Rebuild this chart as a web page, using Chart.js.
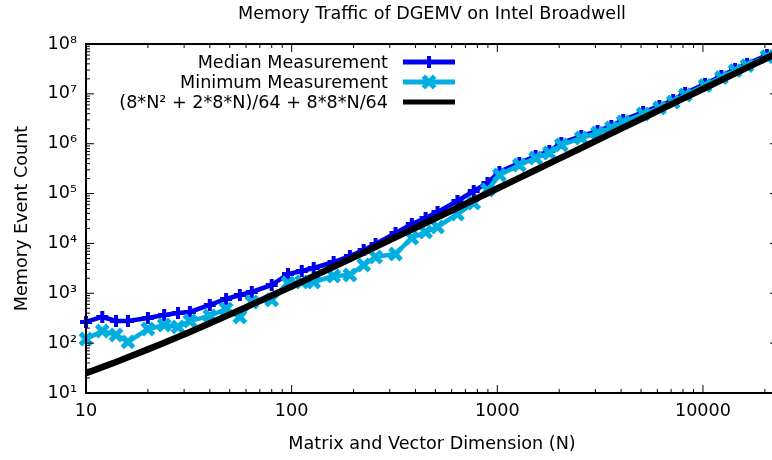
<!DOCTYPE html>
<html>
<head>
<meta charset="utf-8">
<script src="https://cdn.jsdelivr.net/npm/chart.js@4.4.1/dist/chart.umd.min.js"></script>
<style>
  html, body { margin: 0; padding: 0; overflow: hidden; background: #ffffff; }
  #frameBox { width: 772px; height: 460px; overflow: hidden; position: relative; }
  canvas { display: block; }
</style>
</head>
<body>
<div id="frameBox">
<canvas id="traffic" width="780" height="460" style="width:780px;height:460px"></canvas>
</div>
<script>
// Matrix/vector dimension N for each run
const dimensions = [10, 12, 14, 16, 20, 24, 28, 32, 40, 48, 56, 64, 80, 96, 112, 128,
  160, 192, 224, 256, 320, 384, 448, 512, 640, 768, 896, 1024, 1280, 1536, 1792, 2048,
  2560, 3072, 3584, 4096, 5120, 6144, 7168, 8192, 10240, 12288, 14336, 16384, 20480, 24576];

// Median memory event count per N
const medianCounts = [266, 335, 278, 278, 320, 367, 403, 422, 583, 769, 925, 1062, 1467, 2439, 2801, 3217,
  4244, 5600, 7386, 9745, 16200, 24540, 32370, 42710, 70990, 112600, 163000, 271000, 410600, 567200, 714500, 1034000,
  1428000, 1799000, 2267000, 2990000, 4327000, 5708000, 7531000, 10400000, 15800000, 22800000, 31500000, 39700000, 60100000, 87000000];

// Minimum memory event count per N
const minimumCounts = [121, 175, 146, 106, 192, 231, 211, 278, 351, 484, 335, 669, 734, 1609, 1685, 1685,
  2223, 2328, 3695, 5346, 6141, 12860, 16960, 21360, 38940, 64730, 118000, 235800, 374500, 517300, 651600, 943000,
  1302000, 1641000, 2067000, 2727000, 3946000, 5206000, 6868000, 9480000, 14700000, 21200000, 29300000, 36900000, 55900000, 80900000];

// Model: (8*N^2 + 2*8*N)/64 + 8*8*N/64
const modelCounts = [25, 33, 42, 52, 75, 102, 133, 168, 250, 348, 462, 592, 900, 1272, 1708, 2208,
  3400, 4848, 6552, 8512, 13200, 18912, 25648, 33408, 52000, 74688, 101472, 132352, 206400, 296832, 403648, 526848,
  822400, 1183488, 1610112, 2102272, 3283200, 4726272, 6431488, 8398848, 13120000, 18889728, 25708032, 33574912, 52454400, 75528192];

const seriesLabels = ['Median Measurement', 'Minimum Measurement', '(8*N\u00B2 + 2*8*N)/64 + 8*8*N/64'];
const xTickValues = [10, 100, 1000, 10000];
const yTickValues = [1e1, 1e2, 1e3, 1e4, 1e5, 1e6, 1e7, 1e8];
const xRange = [10, 23170];
const yRange = [10, 1e8];

const FONT = 'DejaVu Sans';
const FONT_SIZE = 17.6;
const SUP = { '0': '\u2070', '1': '\u00B9', '2': '\u00B2', '3': '\u00B3', '4': '\u2074',
              '5': '\u2075', '6': '\u2076', '7': '\u2077', '8': '\u2078', '9': '\u2079' };

function powerLabel(v) {
  const e = Math.round(Math.log10(v));
  return '10' + String(e).split('').map(d => SUP[d]).join('');
}

// 2..9 multiples of each decade inside (lo, hi)
function minorTicks(lo, hi) {
  const out = [];
  for (let d = Math.pow(10, Math.floor(Math.log10(lo))); d < hi; d *= 10) {
    for (let k = 2; k <= 9; k++) {
      const v = k * d;
      if (v > lo && v < hi) out.push(v);
    }
  }
  return out;
}

function points(ys) {
  return dimensions.map((n, i) => ({ x: n, y: ys[i] }));
}

// Border box with inward major/minor ticks on all four sides
const frame = {
  id: 'frame',
  afterDraw(chart) {
    const { ctx, chartArea: a, scales } = chart;
    const xs = scales.x, ys = scales.y;
    ctx.save();
    ctx.strokeStyle = '#000';
    ctx.lineWidth = 1;
    const tick = (x1, y1, x2, y2) => { ctx.beginPath(); ctx.moveTo(x1, y1); ctx.lineTo(x2, y2); ctx.stroke(); };
    const xMin = minorTicks(xRange[0], xRange[1]);
    const yMin = minorTicks(yRange[0], yRange[1]);
    xTickValues.forEach(v => { const p = xs.getPixelForValue(v); tick(p, a.bottom, p, a.bottom - 8); tick(p, a.top, p, a.top + 8); });
    xMin.forEach(v => { const p = xs.getPixelForValue(v); tick(p, a.bottom, p, a.bottom - 4); tick(p, a.top, p, a.top + 4); });
    yTickValues.forEach(v => { const p = ys.getPixelForValue(v); tick(a.left, p, a.left + 8, p); tick(a.right, p, a.right - 8, p); });
    yMin.forEach(v => { const p = ys.getPixelForValue(v); tick(a.left, p, a.left + 4, p); tick(a.right, p, a.right - 4, p); });
    ctx.lineWidth = 2;
    ctx.strokeRect(a.left, a.top, a.right - a.left, a.bottom - a.top);
    ctx.restore();
  }
};

// Key in the upper-left of the plot: text right-aligned, sample line to its right
const keyBox = {
  id: 'keyBox',
  afterDraw(chart) {
    const ctx = chart.ctx;
    ctx.save();
    ctx.font = FONT_SIZE + 'px "' + FONT + '"';
    ctx.textAlign = 'right';
    ctx.textBaseline = 'middle';
    chart.data.datasets.forEach((ds, i) => {
      const y = 62 + i * 20;
      ctx.fillStyle = '#000';
      ctx.fillText(ds.label, 388, y + 1);
      ctx.strokeStyle = ds.borderColor;
      ctx.lineWidth = 5;
      ctx.lineCap = 'butt';
      ctx.beginPath(); ctx.moveTo(403, y); ctx.lineTo(455, y); ctx.stroke();
      const cx = 429, r = ds.pointRadius;
      ctx.lineWidth = ds.pointBorderWidth;
      if (ds.pointStyle === 'cross') {
        ctx.beginPath();
        ctx.moveTo(cx - r, y); ctx.lineTo(cx + r, y);
        ctx.moveTo(cx, y - r); ctx.lineTo(cx, y + r);
        ctx.stroke();
      } else if (ds.pointStyle === 'crossRot') {
        const d = r * Math.SQRT1_2;
        ctx.beginPath();
        ctx.moveTo(cx - d, y - d); ctx.lineTo(cx + d, y + d);
        ctx.moveTo(cx - d, y + d); ctx.lineTo(cx + d, y - d);
        ctx.stroke();
      }
    });
    ctx.restore();
  }
};

Chart.defaults.font.family = FONT;
Chart.defaults.font.size = FONT_SIZE;
Chart.defaults.color = '#000';

new Chart(document.getElementById('traffic'), {
  type: 'line',
  data: {
    datasets: [
      {
        label: seriesLabels[0],
        data: points(medianCounts),
        borderColor: '#0000f0',
        backgroundColor: '#0000f0',
        borderWidth: 4.5,
        pointStyle: 'cross',
        pointRadius: 6,
        pointBorderWidth: 4,
        pointBorderColor: '#0000f0',
        tension: 0,
        clip: false,
        order: 2
      },
      {
        label: seriesLabels[1],
        data: points(minimumCounts),
        borderColor: '#00aee0',
        backgroundColor: '#00aee0',
        borderWidth: 4.5,
        pointStyle: 'crossRot',
        pointRadius: 8,
        pointBorderWidth: 5,
        pointBorderColor: '#00aee0',
        tension: 0,
        clip: false,
        order: 1
      },
      {
        label: seriesLabels[2],
        data: points(modelCounts),
        borderColor: '#000000',
        backgroundColor: '#000000',
        borderWidth: 6.5,
        pointRadius: 0,
        tension: 0,
        order: 0
      }
    ]
  },
  options: {
    responsive: false,
    animation: false,
    events: [],
    // the plot frame runs past the visible right edge
    layout: { autoPadding: false, padding: { left: 0, right: 2, top: 0, bottom: 0 } },
    plugins: {
      legend: { display: false },
      tooltip: { enabled: false },
      title: {
        display: true,
        text: 'Memory Traffic of DGEMV on Intel Broadwell',
        fullSize: false,
        font: { size: FONT_SIZE, weight: 'normal' },
        padding: { top: 3.5, bottom: 19.4 }
      }
    },
    scales: {
      x: {
        type: 'logarithmic',
        min: xRange[0],
        max: xRange[1],
        grid: { display: false, drawTicks: false },
        border: { display: false },
        afterBuildTicks: s => { s.ticks = xTickValues.map(v => ({ value: v })); },
        afterFit: s => { s.height = 67; },
        ticks: { autoSkip: false, maxRotation: 0, padding: 8, callback: v => String(v) },
        title: { display: true, text: 'Matrix and Vector Dimension (N)', padding: { top: 0, bottom: 5.5 } }
      },
      y: {
        type: 'logarithmic',
        min: yRange[0],
        max: yRange[1],
        grid: { display: false, drawTicks: false },
        border: { display: false },
        afterBuildTicks: s => { s.ticks = yTickValues.map(v => ({ value: v })); },
        afterFit: s => { s.width = 86; },
        ticks: { autoSkip: false, padding: 9, callback: v => powerLabel(v) },
        title: { display: true, text: 'Memory Event Count', padding: { top: 11.5, bottom: 0 } }
      }
    }
  },
  plugins: [frame, keyBox]
});
</script>
</body>
</html>
